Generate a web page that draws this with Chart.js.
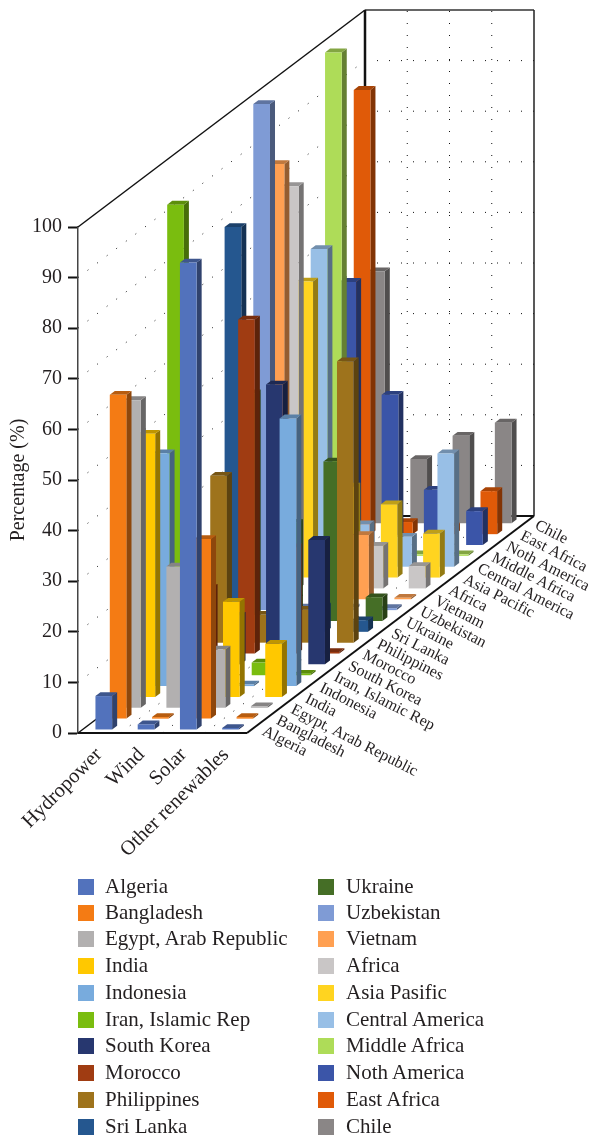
<!DOCTYPE html>
<html>
<head>
<meta charset="utf-8">
<script src="https://cdn.jsdelivr.net/npm/chart.js@4/dist/chart.umd.js"></script>
<style>
  html, body { margin: 0; padding: 0; background: #fff; overflow: hidden; }
  #wrap { position: relative; width: 591px; height: 1136px; }
  canvas { display: block; }
  .item { position: absolute; font: 21px "Liberation Serif", serif; color: #231f20; line-height: 16px; white-space: nowrap; }
  .box { position: absolute; width: 16px; height: 16px; }
</style>
</head>
<body>
<div id="wrap"><canvas id="grafico" width="591" height="1136"></canvas></div>
<script>
// DATOS
const categories = ['Hydropower', 'Wind', 'Solar', 'Other renewables'];
const yTicks = [0, 10, 20, 30, 40, 50, 60, 70, 80, 90, 100];
const legendNames = ['Algeria', 'Bangladesh', 'Egypt, Arab Republic', 'India', 'Indonesia', 'Iran, Islamic Rep',
  'South Korea', 'Morocco', 'Philippines', 'Sri Lanka', 'Ukraine', 'Uzbekistan', 'Vietnam', 'Africa',
  'Asia Pasific', 'Central America', 'Middle Africa', 'Noth America', 'East Africa', 'Chile'];
const depthNames = ['Algeria', 'Bangladesh', 'Egypt, Arab Republic', 'India', 'Indonesia', 'Iran, Islamic Rep',
  'South Korea', 'Morocco', 'Philippines', 'Sri Lanka', 'Ukraine', 'Uzbekistan', 'Vietnam', 'Africa',
  'Asia Pacific', 'Central America', 'Middle Africa', 'Noth America', 'East Africa', 'Chile'];

const algeria = [6.6, 1, 92.3, 0.3];
const bangladesh = [64, 0.3, 35.5, 0.3];
const egypt = [60.8, 27.9, 11.5, 0.3];
const india = [52, 2, 18.8, 10.5];
const indonesia = [46, 3, 0.3, 52.9];
const iran = [93, 3, 2.5, 0.3];
const southKorea = [5, 9.6, 55.3, 24.6];
const morocco = [13, 66, 21, 0.3];
const philippines = [33, 5.5, 6.5, 55.6];
const sriLanka = [80, 5, 5, 2.3];
const ukraine = [45, 19.4, 31.5, 4.7];
const uzbekistan = [100, 0.5, 0.5, 0.4];
const vietnam = [86, 3, 12.7, 0.3];
const africa = [79.5, 5, 8.4, 4.4];
const asiaPacific = [58.5, 18, 14.5, 8.7];
const centralAmerica = [62.8, 8.4, 5.9, 22.4];
const middleAfrica = [99.5, 0.3, 0.3, 0.3];
const nothAmerica = [52, 29.7, 10.9, 6.7];
const eastAfrica = [87.8, 2.4, 1.5, 8.5];
const chile = [49.8, 12.7, 17.3, 19.9];

const seriesValues = [algeria, bangladesh, egypt, india, indonesia, iran, southKorea, morocco, philippines, sriLanka,
  ukraine, uzbekistan, vietnam, africa, asiaPacific, centralAmerica, middleAfrica, nothAmerica, eastAfrica, chile];

const colores = ['#5272BC', '#F47B14', '#B2B0B0', '#FFC800', '#78ABDD', '#7ABD0F', '#27376F', '#A03C12', '#9E731C', '#25578F',
  '#456E26', '#7F9BD5', '#FFA052', '#C9C6C6', '#FFD420', '#98BFE6', '#AEDC58', '#3B55A8', '#E05A08', '#8A8686'];

// GEOMETRIA DE LA CAJA 3D
const fondoX = 287;      // desplazamiento del fondo respecto al frente
const fondoY = 217;
const anchoBarra = 0.395; // fraccion de la categoria
const profBarra = 0.35;   // fraccion de la fila
const fuente = '"Liberation Serif", serif';

function oscurecer(hex, f) {
  const n = parseInt(hex.slice(1), 16);
  const r = Math.round((n >> 16 & 255) * f);
  const g = Math.round((n >> 8 & 255) * f);
  const b = Math.round((n & 255) * f);
  return `rgb(${r},${g},${b})`;
}

function poligono(ctx, pts, color) {
  ctx.fillStyle = color;
  ctx.beginPath();
  pts.forEach((p, i) => i ? ctx.lineTo(p[0], p[1]) : ctx.moveTo(p[0], p[1]));
  ctx.closePath();
  ctx.fill();
}

// fraccion de profundidad de una fila, desde la escala de profundidad
function fraccion(chart, i) {
  const z = chart.scales.depth;
  return (z.getPixelForTick(i) - z.left) / z.width;
}

// Barras en perspectiva: cada dataset dibuja una fila, del fondo hacia el frente
class Bar3DController extends Chart.BarController {
  draw() {
    const chart = this.chart, ctx = chart.ctx;
    const xs = chart.scales.x, ys = chart.scales.y;
    const f = fraccion(chart, this.index);
    const medioZ = profBarra / depthNames.length / 2;
    const ancho = (xs.width / categories.length) * anchoBarra;
    const sx = medioZ * 2 * fondoX, sy = medioZ * 2 * fondoY;
    const color = this.getDataset().backgroundColor;
    const meta = this.getMeta();

    ctx.save();
    meta.data.forEach((el, i) => {
      const valor = this.getParsed(i).y;
      const x = xs.getPixelForTick(i) - ancho / 2 + (f - medioZ) * fondoX;
      const y0 = ys.getPixelForValue(0) - (f - medioZ) * fondoY;
      const y1 = ys.getPixelForValue(valor) - (f - medioZ) * fondoY;
      poligono(ctx, [[x + ancho, y1], [x + ancho + sx, y1 - sy], [x + ancho + sx, y0 - sy], [x + ancho, y0]], oscurecer(color, 0.58));
      poligono(ctx, [[x, y1], [x + ancho, y1], [x + ancho + sx, y1 - sy], [x + sx, y1 - sy]], oscurecer(color, 0.75));
      poligono(ctx, [[x, y1], [x + ancho, y1], [x + ancho, y0], [x, y0]], color);
    });
    ctx.restore();
  }
}
Bar3DController.id = 'bar3d';
Bar3DController.defaults = Chart.BarController.defaults;
Chart.register(Bar3DController);

function linea(ctx, x1, y1, x2, y2, color, grosor, punteada) {
  ctx.save();
  ctx.strokeStyle = color;
  ctx.lineWidth = grosor;
  ctx.setLineDash(punteada ? [1, 11] : []);
  ctx.beginPath();
  ctx.moveTo(x1, y1);
  ctx.lineTo(x2, y2);
  ctx.stroke();
  ctx.restore();
}

// Paredes, rejilla punteada y nombres de la profundidad
const caja3D = {
  id: 'caja3D',
  beforeDatasetsDraw(chart) {
    const ctx = chart.ctx, xs = chart.scales.x, ys = chart.scales.y;
    const izq = xs.left, der = xs.right;
    const cero = ys.getPixelForValue(0), tope = ys.getPixelForValue(100);
    const paso = xs.width / categories.length;
    const punto = '#111';

    yTicks.forEach(v => {
      const y = ys.getPixelForValue(v);
      if (v > 0 && v < 100) {
        linea(ctx, izq, y, izq + fondoX, y - fondoY, punto, 1, true);
        linea(ctx, izq + fondoX, y - fondoY, der + fondoX, y - fondoY, punto, 1, true);
      }
    });
    for (let k = 1; k < categories.length; k++) {
      const x = izq + paso * k;
      linea(ctx, x, cero, x + fondoX, cero - fondoY, punto, 1, true);
      linea(ctx, x + fondoX, cero - fondoY, x + fondoX, tope - fondoY, punto, 1, true);
    }

    linea(ctx, izq, tope, izq + fondoX, tope - fondoY, '#111', 1.5);
    linea(ctx, izq + fondoX, tope - fondoY, der + fondoX, tope - fondoY, '#333', 1.5);
    linea(ctx, der + fondoX, tope - fondoY, der + fondoX, cero - fondoY, '#222', 1.5);
    linea(ctx, izq + fondoX, tope - fondoY, izq + fondoX, cero - fondoY, '#111', 2.5);
    linea(ctx, izq + fondoX, cero - fondoY, der + fondoX, cero - fondoY, '#111', 2);
    linea(ctx, izq, cero, izq + fondoX, cero - fondoY, '#111', 1.5);
    linea(ctx, izq, cero, der, cero, '#111', 2);
    linea(ctx, der, cero, der + fondoX, cero - fondoY, '#111', 2);

    ctx.save();
    ctx.fillStyle = '#231f20';
    ctx.font = '16px ' + fuente;
    ctx.textAlign = 'left';
    ctx.textBaseline = 'middle';
    depthNames.forEach((nombre, i) => {
      const f = fraccion(chart, i);
      ctx.save();
      ctx.translate(der + f * fondoX + 9, cero - f * fondoY + 3);
      ctx.rotate(27 * Math.PI / 180);
      ctx.fillText(nombre, 0, 0);
      ctx.restore();
    });
    ctx.restore();
  }
};

const datasets = legendNames.map((nombre, i) => ({
  type: 'bar3d',
  label: nombre,
  data: seriesValues[i],
  backgroundColor: colores[i],
  clip: false
}));

new Chart(document.getElementById('grafico').getContext('2d'), {
  type: 'bar3d',
  data: { labels: categories, datasets: datasets },
  options: {
    responsive: false,
    animation: false,
    events: [],
    layout: { autoPadding: false, padding: { left: 0, top: 227, right: 344, bottom: 0 } },
    plugins: { legend: { display: false }, tooltip: { enabled: false } },
    scales: {
      x: {
        type: 'category',
        offset: true,
        grid: { display: false },
        border: { display: false },
        ticks: { autoSkip: false, minRotation: 45, maxRotation: 45, padding: 2, color: '#231f20', font: { family: fuente, size: 20.5 } },
        afterFit(s) { s.height = 403; }
      },
      y: {
        min: 0,
        max: 100,
        afterBuildTicks(s) { s.ticks = yTicks.map(v => ({ value: v })); },
        grid: { drawOnChartArea: false, drawTicks: true, tickLength: 10, tickColor: '#111', tickWidth: 2 },
        border: { color: '#444', width: 1.5 },
        ticks: { padding: 6, color: '#231f20', font: { family: fuente, size: 20 } },
        title: { display: true, text: 'Percentage (%)', color: '#231f20', font: { family: fuente, size: 20 }, padding: { top: 7, bottom: 0 } },
        afterFit(s) { s.width = 78; }
      },
      depth: { type: 'category', axis: 'x', labels: depthNames, offset: true, display: false, ticks: { autoSkip: false } }
    }
  },
  plugins: [caja3D]
});

// LEYENDA
const wrap = document.getElementById('wrap');
const filasLeyenda = [887, 913, 939, 966, 993, 1020, 1046, 1073, 1100, 1127];
legendNames.forEach((nombre, i) => {
  const col = i < 10 ? 0 : 1;
  const yc = filasLeyenda[i % 10];
  const box = document.createElement('div');
  box.className = 'box';
  box.style.left = (col ? 318 : 78) + 'px';
  box.style.top = (yc - 8) + 'px';
  box.style.background = colores[i];
  const txt = document.createElement('div');
  txt.className = 'item';
  txt.style.left = (col ? 346 : 105) + 'px';
  txt.style.top = (yc - 9) + 'px';
  txt.textContent = nombre;
  wrap.appendChild(box);
  wrap.appendChild(txt);
});
</script>
</body>
</html>
